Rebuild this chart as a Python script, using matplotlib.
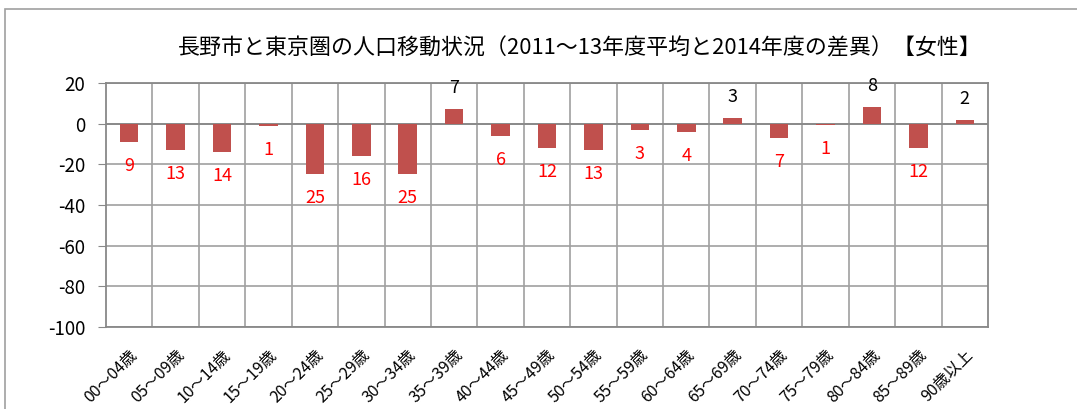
import matplotlib
matplotlib.use("Agg")
import matplotlib.pyplot as plt
from matplotlib.patches import Rectangle
import numpy as np

plt.rcParams['font.family'] = ['Noto Sans CJK JP', 'DejaVu Sans']

categories = ["00～04歳", "05～09歳", "10～14歳", "15～19歳", "20～24歳", "25～29歳",
              "30～34歳", "35～39歳", "40～44歳", "45～49歳", "50～54歳", "55～59歳",
              "60～64歳", "65～69歳", "70～74歳", "75～79歳", "80～84歳", "85～89歳", "90歳以上"]
values = [-9, -13, -14, -1, -25, -16, -25, 7, -6, -12, -13, -3, -4, 3, -7, -0.6, 8, -12, 2]
labels = ["9", "13", "14", "1", "25", "16", "25", "7", "6", "12", "13", "3", "4", "3", "7", "1", "8", "12", "2"]
title = "長野市と東京圏の人口移動状況（2011～13年度平均と2014年度の差異）【女性】"
yticks = [-100, -80, -60, -40, -20, 0, 20]

W, H = 1077, 409
fig = plt.figure(figsize=(W / 100, H / 100), dpi=100)
ax = fig.add_axes([106 / W, 1 - 327 / H, (988 - 106) / W, (327 - 83) / H])

# outer frame
fig.patches.append(Rectangle((5 / W, -0.1), 1.2, 1 - 9 / H + 0.1, transform=fig.transFigure,
                             fill=False, edgecolor='#A0A0A0', linewidth=1.2))

x = np.arange(len(categories))
ax.bar(x, values, width=0.4, color='#C0504D', zorder=3)

ax.set_xlim(-0.5, len(categories) - 0.5)
ax.set_ylim(-100, 20)
ax.set_yticks(yticks)
ax.set_yticklabels([str(v) for v in yticks], fontsize=13.5)
ax.tick_params(axis='y', length=6, color='#888888', pad=9)

ax.set_xticks(x)
ax.set_xticklabels(categories, rotation=45, ha='right', va='top', rotation_mode='anchor',
                   fontsize=11.5)
ax.tick_params(axis='x', length=0, pad=14)

# gridlines
for b in np.arange(0.5, len(categories) - 0.5, 1.0):
    ax.axvline(b, color='#A0A0A0', linewidth=1.2, zorder=1)
ax.grid(which='major', axis='y', color='#A0A0A0', linewidth=1.2, zorder=1)
ax.set_axisbelow(True)
ax.axhline(0, color='#888888', linewidth=1.3, zorder=2)

for s in ax.spines.values():
    s.set_color('#888888')
    s.set_linewidth(1.3)

for xi, v, lab in zip(x, values, labels):
    if v < 0:
        ax.annotate(lab, (xi, v), xytext=(0, -24), textcoords='offset pixels',
                    ha='center', va='center', color='#FF0000', fontsize=13)
    else:
        ax.annotate(lab, (xi, v), xytext=(0, 21), textcoords='offset pixels',
                    ha='center', va='center', color='black', fontsize=13)

fig.text(0.538, 1 - 48 / H, title, ha='center', va='center', fontsize=15.8)

fig.savefig("out.png", dpi=100)
